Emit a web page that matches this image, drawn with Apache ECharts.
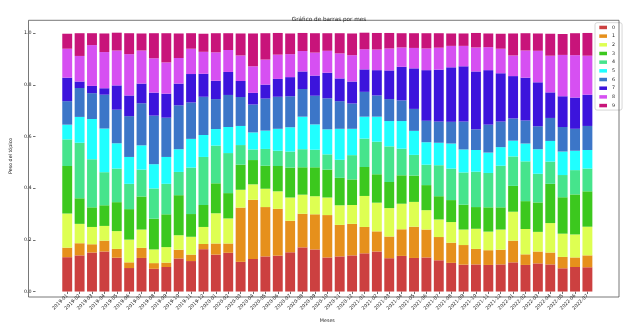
<!DOCTYPE html>
<html>
<head>
<meta charset="utf-8">
<script src="https://cdn.jsdelivr.net/npm/echarts@6/dist/echarts.min.js"></script>
<style>
  html, body { margin: 0; padding: 0; background: #fff; }
  #chart { width: 623px; height: 328px; }
</style>
</head>
<body>
<div id="chart"></div>
<script>
const months = [
  '2019-01','2019-02','2019-03','2019-04','2019-05','2019-06','2019-07','2019-08','2019-09','2019-10','2019-11','2019-12',
  '2020-01','2020-02','2020-03','2020-04','2020-05','2020-06','2020-07','2020-08','2020-09','2020-10','2020-11','2020-12',
  '2021-01','2021-02','2021-03','2021-04','2021-05','2021-06','2021-07','2021-08','2021-09','2021-10','2021-11','2021-12',
  '2022-01','2022-02','2022-03','2022-04','2022-05','2022-06','2022-07'
];
const topicNames = ['0','1','2','3','4','5','6','7','8','9'];
const yTicks = [0, 0.2, 0.4, 0.6, 0.8, 1.0];

const topic0 = [0.133,0.140,0.151,0.155,0.131,0.091,0.130,0.088,0.095,0.128,0.118,0.164,0.143,0.150,0.115,0.126,0.136,0.139,0.152,0.171,0.163,0.132,0.136,0.140,0.148,0.155,0.129,0.138,0.130,0.132,0.121,0.111,0.104,0.105,0.103,0.105,0.113,0.103,0.109,0.105,0.090,0.095,0.094];
const topic1 = [0.037,0.047,0.032,0.042,0.034,0.022,0.039,0.022,0.017,0.034,0.025,0.020,0.043,0.036,0.210,0.229,0.191,0.181,0.122,0.130,0.136,0.164,0.122,0.122,0.102,0.078,0.084,0.103,0.121,0.108,0.090,0.078,0.076,0.060,0.057,0.057,0.084,0.041,0.046,0.046,0.044,0.037,0.046];
const topic2 = [0.132,0.075,0.067,0.057,0.069,0.088,0.071,0.053,0.060,0.056,0.069,0.066,0.117,0.097,0.069,0.060,0.071,0.068,0.090,0.074,0.070,0.068,0.076,0.073,0.120,0.111,0.110,0.099,0.096,0.075,0.068,0.080,0.060,0.078,0.072,0.078,0.112,0.098,0.076,0.114,0.090,0.089,0.111];
const topic3 = [0.184,0.099,0.076,0.080,0.112,0.118,0.128,0.119,0.127,0.155,0.088,0.085,0.116,0.098,0.097,0.094,0.089,0.098,0.116,0.106,0.112,0.108,0.106,0.099,0.112,0.110,0.101,0.110,0.102,0.097,0.090,0.085,0.096,0.084,0.094,0.086,0.100,0.108,0.114,0.152,0.141,0.155,0.137];
const topic4 = [0.103,0.215,0.186,0.128,0.130,0.098,0.104,0.117,0.118,0.090,0.180,0.186,0.146,0.155,0.076,0.041,0.065,0.059,0.062,0.070,0.068,0.059,0.070,0.094,0.110,0.126,0.138,0.103,0.080,0.079,0.120,0.122,0.125,0.137,0.133,0.161,0.114,0.154,0.111,0.086,0.086,0.094,0.088];
const topic5 = [0.057,0.100,0.156,0.169,0.098,0.104,0.094,0.094,0.104,0.088,0.111,0.085,0.064,0.101,0.074,0.066,0.071,0.085,0.094,0.126,0.098,0.097,0.120,0.102,0.085,0.097,0.098,0.107,0.093,0.087,0.087,0.097,0.089,0.084,0.079,0.072,0.061,0.069,0.095,0.080,0.091,0.075,0.072];
const topic6 = [0.091,0.112,0.100,0.131,0.130,0.158,0.163,0.188,0.152,0.170,0.141,0.148,0.116,0.124,0.112,0.108,0.124,0.124,0.120,0.107,0.111,0.120,0.107,0.098,0.096,0.082,0.085,0.080,0.085,0.083,0.082,0.084,0.108,0.080,0.108,0.099,0.086,0.089,0.089,0.089,0.095,0.085,0.093];
const topic7 = [0.091,0.025,0.028,0.025,0.094,0.080,0.076,0.089,0.093,0.084,0.110,0.089,0.071,0.089,0.062,0.045,0.054,0.069,0.074,0.068,0.078,0.099,0.088,0.085,0.087,0.098,0.111,0.130,0.157,0.196,0.201,0.211,0.214,0.224,0.211,0.187,0.164,0.166,0.170,0.099,0.119,0.121,0.121];
const topic8 = [0.112,0.099,0.158,0.140,0.135,0.160,0.128,0.133,0.121,0.099,0.098,0.085,0.110,0.085,0.099,0.103,0.097,0.094,0.089,0.079,0.089,0.085,0.097,0.102,0.078,0.080,0.085,0.075,0.079,0.084,0.085,0.083,0.079,0.093,0.089,0.095,0.080,0.105,0.122,0.142,0.160,0.164,0.151];
const topic9 = [0.058,0.088,0.046,0.072,0.069,0.081,0.066,0.097,0.113,0.095,0.060,0.070,0.074,0.065,0.085,0.127,0.102,0.084,0.080,0.070,0.075,0.068,0.078,0.084,0.064,0.064,0.060,0.055,0.057,0.059,0.056,0.048,0.048,0.056,0.053,0.058,0.085,0.067,0.067,0.085,0.081,0.085,0.088];

const topics = [topic0, topic1, topic2, topic3, topic4, topic5, topic6, topic7, topic8, topic9];
const colors = ['#cc4040','#e6901c','#deff52','#3cc81e','#46e48c','#20ffff','#3c76c8','#3c14dc','#d650f2','#c8147a'];

const FONT = 'DejaVu Sans';
const chart = echarts.init(document.getElementById('chart'), null, { renderer: 'canvas' });

chart.setOption({
  animation: false,
  backgroundColor: '#fff',
  color: colors,
  title: {
    text: 'Gráfico de barras por mes',
    left: 324, top: 12, textAlign: 'center',
    textStyle: { fontFamily: FONT, fontSize: 5.7, fontWeight: 'normal', color: '#222' }
  },
  legend: {
    orient: 'vertical',
    left: 595, top: 22.7,
    data: topicNames,
    itemWidth: 7.7, itemHeight: 3.5, itemGap: 3.68,
    padding: [2.25, 7, 2, 4.3],
    borderColor: '#cccccc', borderWidth: 0.8, borderRadius: 2,
    backgroundColor: 'rgba(255,255,255,0.8)',
    icon: 'rect',
    textStyle: { fontFamily: FONT, fontSize: 4.8, color: '#222', lineHeight: 3.5 }
  },
  grid: [
    { left: 54, right: 29.4, top: 20.3, bottom: 31, containLabel: false },
    { left: 28.5, right: 4, top: 20.3, bottom: 31, show: true, borderColor: '#555', borderWidth: 0.8, backgroundColor: 'transparent', z: 5 }
  ],
  xAxis: [
    {
      type: 'category', gridIndex: 0, data: months, boundaryGap: true,
      name: 'Meses', nameLocation: 'middle', nameGap: 22,
      nameTextStyle: { fontFamily: FONT, fontSize: 4.8, color: '#222' },
      axisLine: { show: false },
      axisTick: { show: true, alignWithLabel: true, interval: 0, length: 2.5, lineStyle: { color: '#333', width: 0.7 } },
      axisLabel: { interval: 0, rotate: 45, margin: 3.5, fontFamily: FONT, fontSize: 4.8, color: '#222' },
      splitLine: { show: false }
    },
    { type: 'value', gridIndex: 1, show: false, min: 0, max: 1 }
  ],
  yAxis: [
    {
      type: 'value', gridIndex: 0, min: 0, max: 1.05, offset: 25.5,
      name: 'Peso del tópico', nameLocation: 'middle', nameGap: 14, nameRotate: 90,
      nameTextStyle: { fontFamily: FONT, fontSize: 4.8, color: '#222' },
      axisLine: { show: false },
      axisTick: { show: true, length: 2.5, customValues: yTicks, lineStyle: { color: '#333', width: 0.7 } },
      axisLabel: { show: true, margin: 4, customValues: yTicks, fontFamily: FONT, fontSize: 4.8, color: '#222',
                   formatter: v => v.toFixed(1) },
      splitLine: { show: false }
    },
    { type: 'value', gridIndex: 1, show: false, min: 0, max: 1 }
  ],
  series: topics.map((vals, i) => ({
    name: topicNames[i],
    type: 'bar',
    stack: 'total',
    xAxisIndex: 0, yAxisIndex: 0,
    barWidth: '80%',
    data: vals,
    itemStyle: { color: colors[i] }
  }))
});
</script>
</body>
</html>
